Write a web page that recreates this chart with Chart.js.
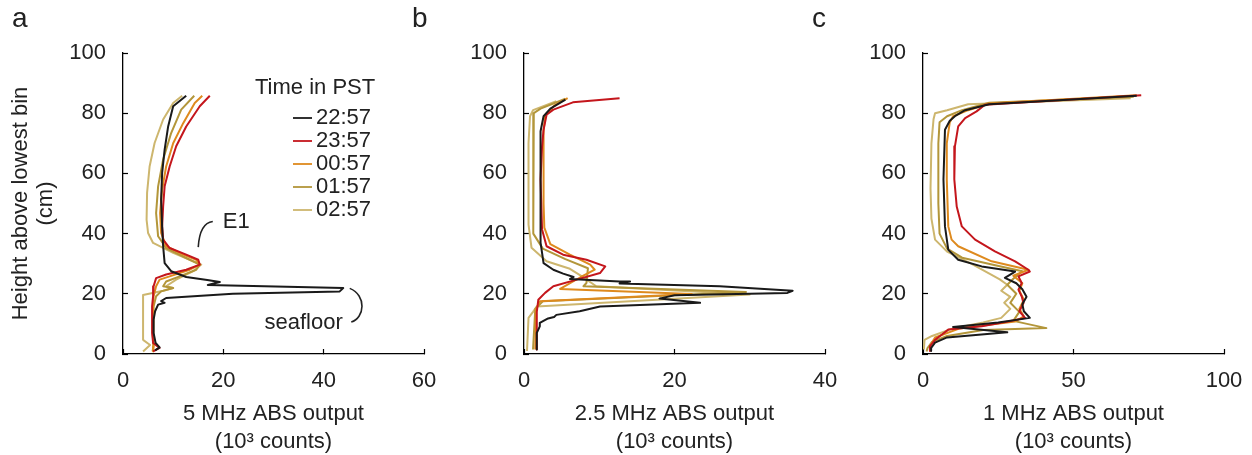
<!DOCTYPE html>
<html>
<head>
<meta charset="utf-8">
<title>ABS profiles</title>
<script src="https://cdn.jsdelivr.net/npm/chart.js@4/dist/chart.umd.min.js"></script>
<style>
  html, body { margin: 0; padding: 0; background: #fff; }
  #wrap { position: relative; width: 1252px; height: 455px; overflow: hidden; }
  #wrap canvas { position: absolute; top: 0; }
</style>
</head>
<body>
<div id="wrap">
  <canvas id="panelA" width="445" height="455" style="left:0px"></canvas>
  <canvas id="panelB" width="445" height="455" style="left:400px"></canvas>
  <canvas id="panelC" width="445" height="455" style="left:800px"></canvas>
</div>
<script>
// profile times, one line per burst
const TIMES  = ['22:57', '23:57', '00:57', '01:57', '02:57'];
const COLORS = ['#1a1a1a', '#c4161c', '#de8a1e', '#b3963a', '#cdb66e'];

const HEIGHT_TICKS = [0, 20, 40, 60, 80, 100];

// 5 MHz: [counts (10^3), height (cm)]
const a2257 = [[12.6,85.8],[10,82.3],[9,75.6],[8.3,67.9],[7.8,60.1],[7.6,51.3],[7.8,42.4],[8,35.8],[8.3,30.2],[9.6,27.5],[12.6,25.6],[16.8,24.6],[19.3,23.9],[16.9,22.9],[43.9,21.9],[43.2,20.8],[21.9,20],[8.6,18.6],[7.6,17.6],[8.3,17],[7,16.4],[6.4,14.2],[6.1,11.4],[6.1,7],[6.5,3.7],[7.3,2.2],[6.4,1.2]];
const a2357 = [[17.3,85.8],[15.3,82.3],[12.6,75.6],[10.6,69],[9.3,62.3],[8.3,55.7],[8,49],[7.8,42.4],[8,38],[9.3,35.2],[12.6,33],[15,31.3],[15.3,29.7],[12.6,28],[8.6,26.4],[6.6,25.2],[6.1,22.5],[6,19.2],[5.8,15.8],[5.8,7],[6,3.7],[7.3,2],[6,0.9]];
const a0057 = [[15.8,85.8],[14.3,83.4],[12,76.7],[10,70],[8.6,62.3],[7.8,54.6],[7.4,46.8],[7.6,40.2],[8.6,35.8],[12,33],[14.6,31.3],[15.3,29.7],[13.3,28],[9.3,25.8],[7.3,24.7],[6.6,22.5],[6.1,19.2],[5.9,12],[5.9,7],[6.1,2.5],[6,0.9]];
const a0157 = [[14.2,85.8],[11.6,81.2],[9.6,73.4],[8,64.6],[7,55.7],[6.6,46.8],[7,39.1],[8.6,35.2],[12.6,31.9],[15.3,29.7],[14.6,28],[11.3,25.8],[8.6,24.1],[8,22.5],[10,21.9],[7.6,20.8],[6.6,19.2],[6.1,15.8],[6,7],[6.1,2.5],[5.9,0.9]];
const a0257 = [[11.8,85.8],[10,83.4],[8,77.9],[6.3,70.1],[5.3,62.3],[4.8,53.5],[4.7,44.6],[5,40.2],[6,36.9],[10,33.6],[14,30.8],[15.6,29.7],[14,27.5],[10.6,24.7],[8.6,22.5],[10,21.9],[8,21],[4,19.6],[4,12],[4,4.7],[5.4,3],[4,0.8]];

// 2.5 MHz
const b2257 = [[5.5,84.5],[3.5,81.5],[2.6,79],[2.2,74],[2.2,50],[2.2,37],[2.6,30.2],[3.9,28],[5.2,26.7],[6.6,25.6],[6.1,24.9],[12.7,24.1],[14.1,24.1],[12.7,23.4],[26,22.5],[35.7,21],[35,20.3],[20,19.5],[18,18.4],[23.4,17],[10.1,15.8],[7.4,14.2],[4.3,13],[4,12.3],[3.2,11.8],[2.1,10.3],[2.1,9.2],[1.7,7],[1.7,1.5]];
const b2357 = [[12.7,85],[6.5,83.6],[3.9,81.2],[3,79.5],[2.6,74.5],[2.4,69],[2.2,58],[2.4,41.4],[3,35.8],[5.2,33],[8.3,31.3],[10.8,29.1],[10.1,26.9],[7,24.7],[3.9,22.5],[2.8,20.3],[1.9,18],[1.7,14],[1.7,1.5]];
const b0057 = [[5.8,85],[4,82.5],[2.8,79],[2.6,74],[2.6,50],[2.7,42],[3.5,36.5],[6.1,33],[8.8,29.7],[9.4,28],[7.5,25.5],[4.8,21.6],[22.3,19.9],[2.1,17.5],[1.6,15],[1.5,1.5]];
const b0157 = [[5.5,84.8],[2.2,81.5],[1.3,80],[1.2,70],[1.2,50],[1.3,40],[2.5,35],[5.5,31.5],[8.5,28.5],[8.3,23.6],[7.9,22.5],[29.5,20.6],[2.5,17.5],[1.5,15],[1.2,1.5]];
const b0257 = [[4.3,84],[1.2,81],[0.8,79],[0.6,70],[0.6,43],[1,35.3],[3,30.8],[6.1,28.3],[7.7,25.8],[9.6,22.5],[30,19.8],[1.7,15.8],[1.2,14],[0.6,12],[0.4,1]];

// 1 MHz
const c2257 = [[71,85.8],[22,83],[14,81],[10.6,79],[8.9,77.5],[7.3,74.5],[6.8,58],[7.3,42.4],[8.4,34.6],[11.7,31.3],[19.5,29.1],[30.6,27.4],[27.2,25.3],[31,23.5],[33,21.5],[34.4,19],[33,16.5],[33.5,14.2],[35.5,12],[25,10.5],[10,9],[28,7.2],[8,5.5],[4,3.8],[2.7,2],[2.7,1]];
const c2357 = [[72.5,86],[20.6,82.8],[17.8,80.6],[14,78.4],[11.7,75.6],[10.6,69],[10.4,58],[11.2,49],[12.9,42.4],[17.3,38],[23.9,34.1],[30.6,30.8],[35,28],[35.5,27.4],[31.7,25.8],[32.8,23.6],[31.7,21.4],[32.8,19.1],[33.4,16.9],[32,14.2],[33.9,12],[28.3,10.8],[19.5,9.2],[8.4,8.1],[6.2,6.4],[4,4.7],[2.3,2.5],[2.3,1]];
const c0057 = [[71,86],[22,83.2],[15,81],[10,79],[8.9,77],[7.9,70],[7.9,58],[8.4,42.4],[9.5,38],[11.7,35.8],[22.8,30.8],[35,28],[30,26],[33,23.5],[32,21],[33.5,18],[32,15],[33.5,12.5],[30.6,10.8],[20,9.5],[12.2,8.5],[4,5.5],[2.5,3],[2.3,1.5]];
const c0157 = [[70,85.5],[22,83.5],[13,81],[8,79],[5.5,77],[5.1,70],[5.1,50],[5.5,40],[8,35],[13,32],[24,29.5],[33,27.5],[30,25],[28,23],[31,20],[29,17],[32,14],[30,11],[41,8.6],[20,8],[8,6],[3,4],[1.5,2],[1.2,0.8]];
const c0257 = [[69,85],[15,83],[8,81],[4,80],[3.5,78],[2.8,70],[2.5,55],[2.8,45],[4,38],[8,34],[16,30],[22.8,26.3],[25.5,24.8],[28,23],[26,21],[29,19],[27,17],[29,15],[26,12],[20,10.5],[10,8.5],[3,6],[0.5,4.7],[0.3,1.5]];

const FONT = "'Liberation Sans', Arial, Helvetica, sans-serif";
const INK  = '#222';

// letter + optional legend / notes, drawn over each panel
const panelDecor = {
  id: 'panelDecor',
  afterDraw(chart, args, opts) {
    const { ctx, chartArea: area, scales: { x, y } } = chart;
    ctx.save();
    ctx.fillStyle = INK;
    ctx.font = `28px ${FONT}`;
    ctx.textBaseline = 'alphabetic';
    ctx.fillText(opts.letter, 12, 27);

    if (opts.legend) {
      ctx.font = `22px ${FONT}`;
      ctx.textBaseline = 'middle';
      ctx.fillText('Time in PST', area.left + 132, 88);
      TIMES.forEach((t, i) => {
        const cy = 118 + i * 23;
        ctx.strokeStyle = COLORS[i];
        ctx.lineWidth = 1.8;
        ctx.beginPath();
        ctx.moveTo(area.left + 170, cy);
        ctx.lineTo(area.left + 189, cy);
        ctx.stroke();
        ctx.fillText(t, area.left + 193, cy);
      });
    }

    if (opts.notes) {
      const px = (vx, vy) => [x.getPixelForValue(vx), y.getPixelForValue(vy)];
      ctx.strokeStyle = INK;
      ctx.lineWidth = 1.6;
      ctx.font = `22px ${FONT}`;
      ctx.textBaseline = 'middle';

      // E1 hook
      let p0 = px(15, 35.5), p1 = px(15.3, 43.5), p2 = px(17.9, 44);
      ctx.beginPath();
      ctx.moveTo(...p0);
      ctx.quadraticCurveTo(...p1, ...p2);
      ctx.stroke();
      ctx.textAlign = 'left';
      ctx.fillText('E1', ...px(19.9, 43.9));

      // seafloor bracket
      const s0 = px(45.2, 21.8), s1 = px(48.6, 19.5), s2 = px(48.2, 12), s3 = px(45.5, 10.6);
      ctx.beginPath();
      ctx.moveTo(...s0);
      ctx.bezierCurveTo(...s1, ...s2, ...s3);
      ctx.stroke();
      ctx.textAlign = 'right';
      ctx.fillText('seafloor', ...px(43.8, 10.3));
    }
    ctx.restore();
  }
};

// fixed axis box, no extra room for overhanging tick labels
function fixBox(s, w, h) {
  if (w != null) s.width = w;
  if (h != null) s.height = h;
  s.paddingLeft = s.paddingRight = s.paddingTop = s.paddingBottom = 0;
}

function makePanel(id, o) {
  const tickFont = { family: FONT, size: 22 };
  return new Chart(document.getElementById(id), {
    type: 'scatter',
    data: {
      datasets: o.series.map((pts, i) => ({
        label: TIMES[i],
        data: pts.map(([cx, h]) => ({ x: cx, y: h })),
        showLine: true,
        borderColor: COLORS[i],
        backgroundColor: COLORS[i],
        borderWidth: 2,
        borderJoinStyle: 'round',
        pointRadius: 0,
        fill: false
      }))
    },
    options: {
      responsive: false,
      animation: false,
      events: [],
      layout: { padding: { top: 53, right: 445 - o.axisX - 301, left: 0, bottom: 0 } },
      plugins: {
        legend: { display: false },
        tooltip: { enabled: false },
        panelDecor: { letter: o.letter, legend: !!o.legend, notes: !!o.notes }
      },
      scales: {
        x: {
          type: 'linear', min: 0, max: o.xMax,
          ticks: { stepSize: o.xStep, color: INK, font: tickFont, padding: 19, maxRotation: 0 },
          grid: { drawOnChartArea: false, tickLength: -5, tickColor: '#000', tickWidth: 1.2 },
          border: { color: '#000', width: 1.3 },
          title: {
            display: true, text: [o.xTitle, '(10³ counts)'], color: INK,
            font: { family: FONT, size: 22, lineHeight: 1.23 },
            padding: { top: 0, bottom: 0 }
          },
          afterFit: s => fixBox(s, null, 101)
        },
        y: {
          type: 'linear', min: 0, max: 100,
          afterBuildTicks: s => { s.ticks = HEIGHT_TICKS.map(v => ({ value: v })); },
          ticks: { color: INK, font: tickFont, padding: 22 },
          grid: { drawOnChartArea: false, tickLength: -5, tickColor: '#000', tickWidth: 1.2 },
          border: { color: '#000', width: 1.3 },
          title: {
            display: !!o.yTitle, text: ['Height above lowest bin', '(cm)'], color: INK,
            font: { family: FONT, size: 22, lineHeight: 1.14 },
            padding: { top: 8, bottom: 0 }
          },
          afterFit: s => fixBox(s, o.axisX, null)
        }
      }
    },
    plugins: [panelDecor]
  });
}

makePanel('panelA', {
  letter: 'a', axisX: 123, xMax: 60, xStep: 20, xTitle: '5 MHz ABS output',
  series: [a2257, a2357, a0057, a0157, a0257], legend: true, notes: true, yTitle: true
});
makePanel('panelB', {
  letter: 'b', axisX: 124, xMax: 40, xStep: 20, xTitle: '2.5 MHz ABS output',
  series: [b2257, b2357, b0057, b0157, b0257]
});
makePanel('panelC', {
  letter: 'c', axisX: 123, xMax: 100, xStep: 50, xTitle: '1 MHz ABS output',
  series: [c2257, c2357, c0057, c0157, c0257]
});
</script>
</body>
</html>
